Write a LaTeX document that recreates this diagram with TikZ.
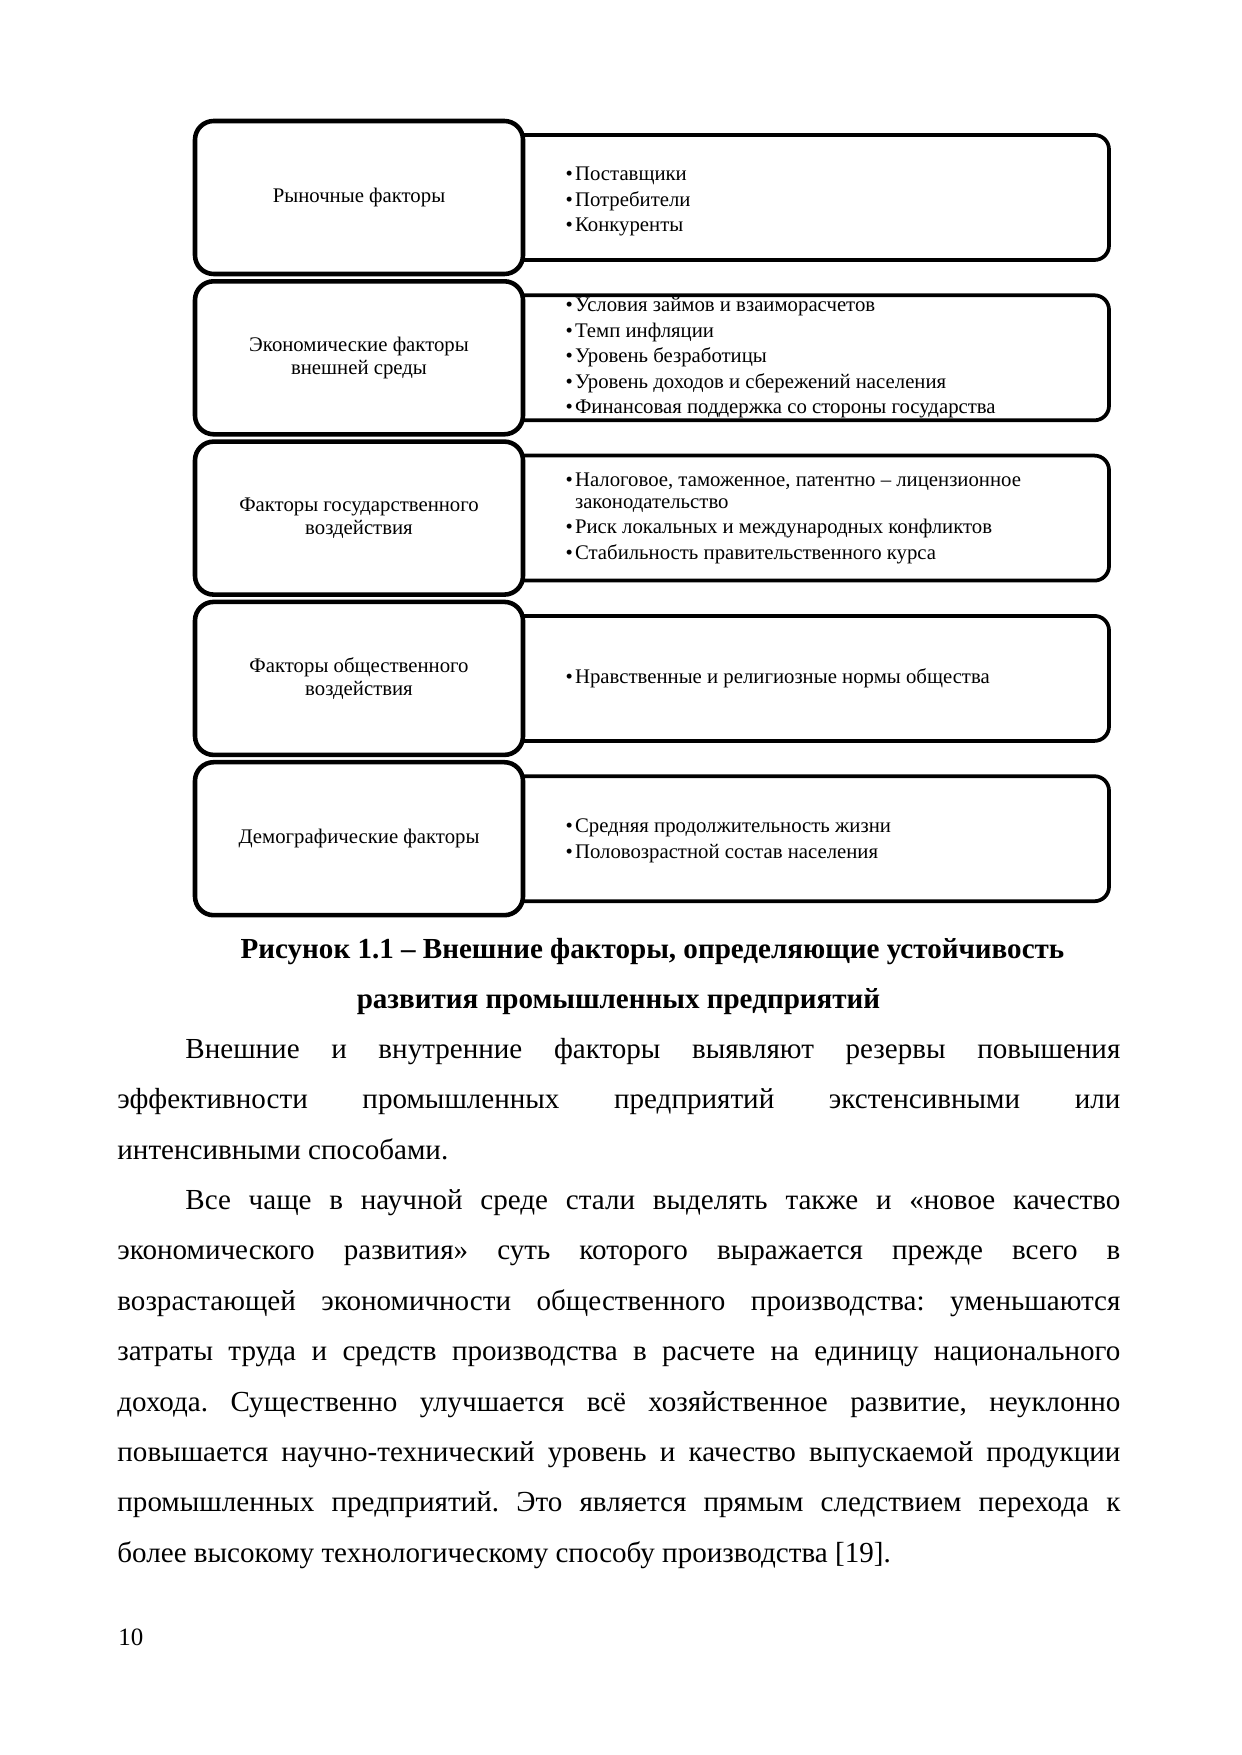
\documentclass[tikz,border=0pt]{standalone}
\usepackage{fontspec}
\setmainfont{Liberation Serif}
\usetikzlibrary{positioning}
\newlength\px
\setlength\px{0.016922cm}
\tikzset{
  lbox/.style={draw, line width=2.2pt, rounded corners=9pt, fill=white, minimum width=328\px,
    minimum height=153\px, inner sep=0pt, align=center, font=\fontsize{10}{11.3}\selectfont},
  rbox/.style={draw, line width=1.8pt, rounded corners=7pt, fill=white, minimum width=600\px,
    minimum height=125\px, inner sep=0pt},
  items/.style={anchor=west, inner sep=0pt, align=left, font=\fontsize{10}{12.2}\selectfont},
  bodyline/.style={anchor=base west, inner sep=0pt, font=\fontsize{14}{16}\selectfont},
  capline/.style={anchor=base, inner sep=0pt, font=\bfseries\fontsize{14}{16}\selectfont},
}
\newcommand{\itm}{\textbullet\kern1pt}
\newcommand{\jl}[1]{\makebox[1003\px][s]{#1}}
\frenchspacing

\begin{document}
\begin{tikzpicture}[x=0.016922cm, y=-0.016922cm, line join=round]
  % Page
  \fill[white] (0,0) rectangle (1241,1755);
  \useasboundingbox (0,0) rectangle (1241,1755);

  % Right boxes (behind)
  \node[rbox] (r1) at (809,197.5) {};
  \node[rbox] (r2) at (809,357.8) {};
  \node[rbox] (r3) at (809,518.1) {};
  \node[rbox] (r4) at (809,678.4) {};
  \node[rbox] (r5) at (809,838.7) {};

  % Left boxes
  \node[lbox] (l1) at (359,197.5) {Рыночные факторы};
  \node[lbox] (l2) at (359,357.8) {Экономические факторы\\внешней среды};
  \node[lbox] (l3) at (359,518.1) {Факторы государственного\\воздействия};
  \node[lbox] (l4) at (359,678.4) {Факторы общественного\\воздействия};
  \node[lbox] (l5) at (359,838.7) {Демографические факторы};

  % Lists
  \node[items] (t1) at ([xshift=40\px, yshift=-2pt]l1.east) {\itm Поставщики\\\itm Потребители\\\itm Конкуренты};
  \node[items] (t2) at ([xshift=40\px]l2.east) {\itm Условия займов и взаиморасчетов\\\itm Темп инфляции\\
    \itm Уровень безработицы\\\itm Уровень доходов и сбережений населения\\
    \itm Финансовая поддержка со стороны государства};
  \node[items] (t3) at ([xshift=40\px]l3.east) {\itm Налоговое, таможенное, патентно – лицензионное\\[-1.5pt]
    \hphantom{\itm}законодательство\\\itm Риск локальных и международных конфликтов\\
    \itm Стабильность правительственного курса};
  \node[items] (t4) at ([xshift=40\px]l4.east) {\itm Нравственные и религиозные нормы общества};
  \node[items] (t5) at ([xshift=40\px, yshift=-1pt]l5.east) {\itm Средняя продолжительность жизни\\\itm Половозрастной состав населения};

  % Caption
  \node[capline] (c1) at (652.5,958) {Рисунок 1.1 – Внешние факторы, определяющие устойчивость};
  \node[capline] (c2) at (618.5,1008) {развития промышленных предприятий};

  % Text
  \node[bodyline] (b1) at (117,1058.5) {\jl{\hspace*{68\px}Внешние и внутренние факторы выявляют резервы повышения}};
  \node[bodyline] (b2) at (117,1108.9) {\jl{эффективности промышленных предприятий экстенсивными или}};
  \node[bodyline] (b3) at (117,1159.2) {интенсивными способами.};
  \node[bodyline] (b4) at (117,1209.6) {\jl{\hspace*{68\px}Все чаще в научной среде стали выделять также и «новое качество}};
  \node[bodyline] (b5) at (117,1259.9) {\jl{экономического развития» суть которого выражается прежде всего в}};
  \node[bodyline] (b6) at (117,1310.3) {\jl{возрастающей экономичности общественного производства: уменьшаются}};
  \node[bodyline] (b7) at (117,1360.7) {\jl{затраты труда и средств производства в расчете на единицу национального}};
  \node[bodyline] (b8) at (117,1411.0) {\jl{дохода. Существенно улучшается всё хозяйственное развитие, неуклонно}};
  \node[bodyline] (b9) at (117,1461.4) {\jl{повышается научно-технический уровень и качество выпускаемой продукции}};
  \node[bodyline] (b10) at (117,1511.7) {\jl{промышленных предприятий. Это является прямым следствием перехода к}};
  \node[bodyline] (b11) at (117,1562.1) {более высокому технологическому способу производства [19].};

  % Page number
  \node[anchor=base west, inner sep=0pt, font=\fontsize{12}{14}\selectfont] (pg) at (118,1645) {10};
\end{tikzpicture}
\end{document}
